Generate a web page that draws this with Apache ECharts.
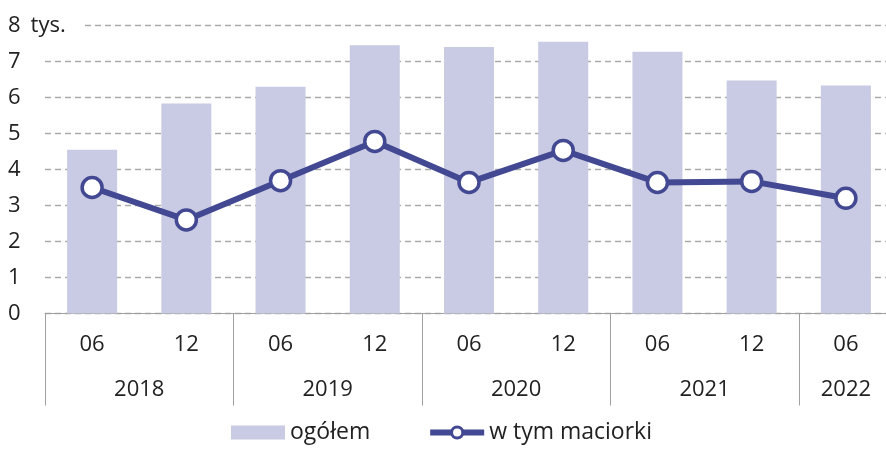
<!DOCTYPE html>
<html>
<head>
<meta charset="utf-8">
<script src="https://cdn.jsdelivr.net/npm/echarts@6/dist/echarts.min.js"></script>
<style>html,body{margin:0;padding:0;background:#fff}#c{width:886px;height:449px}</style>
</head>
<body>
<div id="c"></div>
<script>
var months = ['06','12','06','12','06','12','06','12','06'];
var years = ['2018','2019','2020','2021','2022'];
var yearCenters = [1, 3, 5, 7, 8.5];
var yearBounds = [0, 2, 4, 6, 8];
var ogolem = [4.55, 5.83, 6.30, 7.45, 7.40, 7.55, 7.27, 6.47, 6.33];
var maciorki = [3.50, 2.60, 3.69, 4.78, 3.64, 4.53, 3.64, 3.67, 3.20];
var yTicks = [0,1,2,3,4,5,6,7,8];

var FONT = 'Open Sans';
var LINE = '#424891';
var chart = echarts.init(document.getElementById('c'));
chart.setOption({
  animation: false,
  textStyle: {fontFamily: FONT},
  grid: {left: 45, top: 25.5, width: 848, height: 288, containLabel: false, outerBoundsMode: 'none'},
  legend: {
    bottom: 0, left: 226, itemWidth: 54, itemHeight: 14, itemGap: 57,
    textStyle: {fontSize: 23, color: '#222', fontFamily: FONT},
    data: [
      {name: 'ogółem', icon: 'rect'},
      {name: 'w tym maciorki', lineStyle: {width: 6, color: LINE}, itemStyle: {color: '#fff', borderColor: LINE, borderWidth: 3}}
    ]
  },
  xAxis: [{
    type: 'category', data: months, gridIndex: 0,
    axisLine: {show: true, lineStyle: {color: '#a0a0a0', width: 1}},
    axisTick: {show: false},
    axisLabel: {fontSize: 22, color: '#222', margin: 20, fontFamily: FONT}
  }, {
    type: 'value', min: 0, max: 9, gridIndex: 0, position: 'bottom',
    axisLine: {show: false},
    splitLine: {show: false},
    axisTick: {show: true, customValues: yearBounds, length: 92, lineStyle: {color: '#a0a0a0', width: 1}},
    axisLabel: {
      customValues: yearCenters, fontSize: 22, color: '#222', margin: 65, fontFamily: FONT,
      formatter: function (v) {
        for (var i = 0; i < yearCenters.length; i++) { if (Math.abs(yearCenters[i] - v) < 1e-6) return years[i]; }
        return '';
      }
    }
  }],
  yAxis: {
    type: 'value', min: 0, max: 8, interval: 1,
    axisLine: {show: false}, axisTick: {show: false},
    splitLine: {show: true, lineStyle: {color: '#ababab', type: [6, 4], width: 1.3}},
    axisLabel: {
      align: 'left', margin: 37, fontSize: 22, color: '#222', fontFamily: FONT,
      formatter: function (v) { return v === yTicks[yTicks.length - 1] ? '{a|' + v + '}{b|tys.}' : String(v); },
      rich: {
        a: {fontSize: 22, color: '#222', fontFamily: FONT},
        b: {fontSize: 22, color: '#222', fontFamily: FONT, padding: [0, 16, 0, 10], backgroundColor: '#fff'}
      }
    }
  },
  series: [{
    name: 'ogółem', type: 'bar', data: ogolem, xAxisIndex: 0, barWidth: 50,
    itemStyle: {color: '#c9cae3'}
  }, {
    name: 'w tym maciorki', type: 'line', data: maciorki, xAxisIndex: 0, z: 5,
    symbol: 'circle', symbolSize: 20,
    lineStyle: {color: LINE, width: 6},
    itemStyle: {color: '#fff', borderColor: LINE, borderWidth: 3.5}
  }]
});
</script>
</body>
</html>
